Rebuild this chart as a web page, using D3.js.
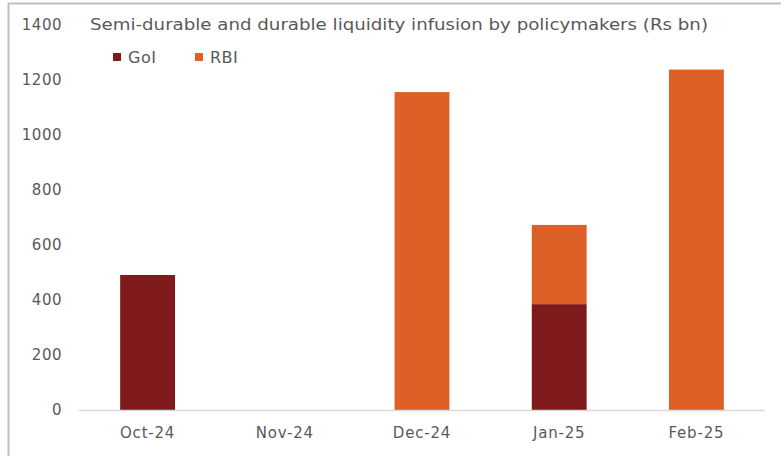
<!DOCTYPE html>
<html><head><meta charset="utf-8">
<script src="https://cdn.jsdelivr.net/npm/d3@7"></script>
<style>body{margin:0;background:#fff;}svg{display:block;}text{font-family:"DejaVu Sans",sans-serif;fill:#595959;}</style>
</head><body>
<script>
const categories = ["Oct-24","Nov-24","Dec-24","Jan-25","Feb-25"];
const goiValues = [491, 0, 0, 385, 0];
const rbiValues = [0, 0, 1156, 288, 1238];
const yTicks = [0,200,400,600,800,1000,1200,1400];
const seriesNames = ["GoI","RBI"];
const colors = {GoI:"#7f1a1c", RBI:"#dd6027"};
const title = "Semi-durable and durable liquidity infusion by policymakers (Rs bn)";

const W=781,H=456;
const FONT="DejaVu Sans, sans-serif";
const svg=d3.select("body").append("svg").attr("width",W).attr("height",H);
svg.append("line").attr("x1",8).attr("x2",W).attr("y1",3.5).attr("y2",3.5).attr("stroke","#bfbfbf").attr("stroke-width",2);
svg.append("line").attr("x1",8.5).attr("x2",8.5).attr("y1",3).attr("y2",H).attr("stroke","#bfbfbf").attr("stroke-width",2);

const x=d3.scaleBand().domain(categories).range([79,765]).paddingInner(0.6).paddingOuter(0.3);
const y=d3.scaleLinear().domain([0,1400]).range([410,25]);

const data=categories.map((c,i)=>({cat:c,GoI:goiValues[i],RBI:rbiValues[i]}));
const stack=d3.stack().keys(seriesNames)(data);

svg.append("g").selectAll("g").data(stack).join("g").attr("fill",d=>colors[d.key])
 .selectAll("rect").data(d=>d).join("rect")
 .attr("x",d=>x(d.data.cat)).attr("width",x.bandwidth())
 .attr("y",d=>y(d[1])).attr("height",d=>y(d[0])-y(d[1]));

svg.append("line").attr("x1",79).attr("x2",765).attr("y1",y(0)+0.5).attr("y2",y(0)+0.5).attr("stroke","#d9d9d9").attr("stroke-width",1.5);

const ya=d3.axisLeft(y).tickValues(yTicks).tickFormat(d3.format("d")).tickSize(0).tickPadding(0);
const yg=svg.append("g").attr("transform","translate(62,0)").call(ya);
yg.select(".domain").remove();
yg.selectAll("text").style("font-size","15px").attr("fill","#595959").style("font-family",FONT).style("letter-spacing","0.5px");

const xa=d3.axisBottom(x).tickSize(0).tickPadding(0);
const xg=svg.append("g").attr("transform",`translate(0,${y(0)+17})`).call(xa);
xg.select(".domain").remove();
xg.selectAll("text").style("font-size","15px").attr("fill","#595959").style("font-family",FONT).style("letter-spacing","0.8px");

svg.append("text").attr("x",90).attr("y",30).style("font-size","16px").attr("textLength",618).attr("lengthAdjust","spacingAndGlyphs").text(title);

const lg=svg.append("g");
const lx=[113,195];
seriesNames.forEach((s,i)=>{
  lg.append("rect").attr("x",lx[i]).attr("y",53).attr("width",8).attr("height",8).attr("fill",colors[s]);
  lg.append("text").attr("x",lx[i]+15).attr("y",63).style("font-size","16px").style("letter-spacing","0.5px").text(s);
});
</script>
</body></html>
